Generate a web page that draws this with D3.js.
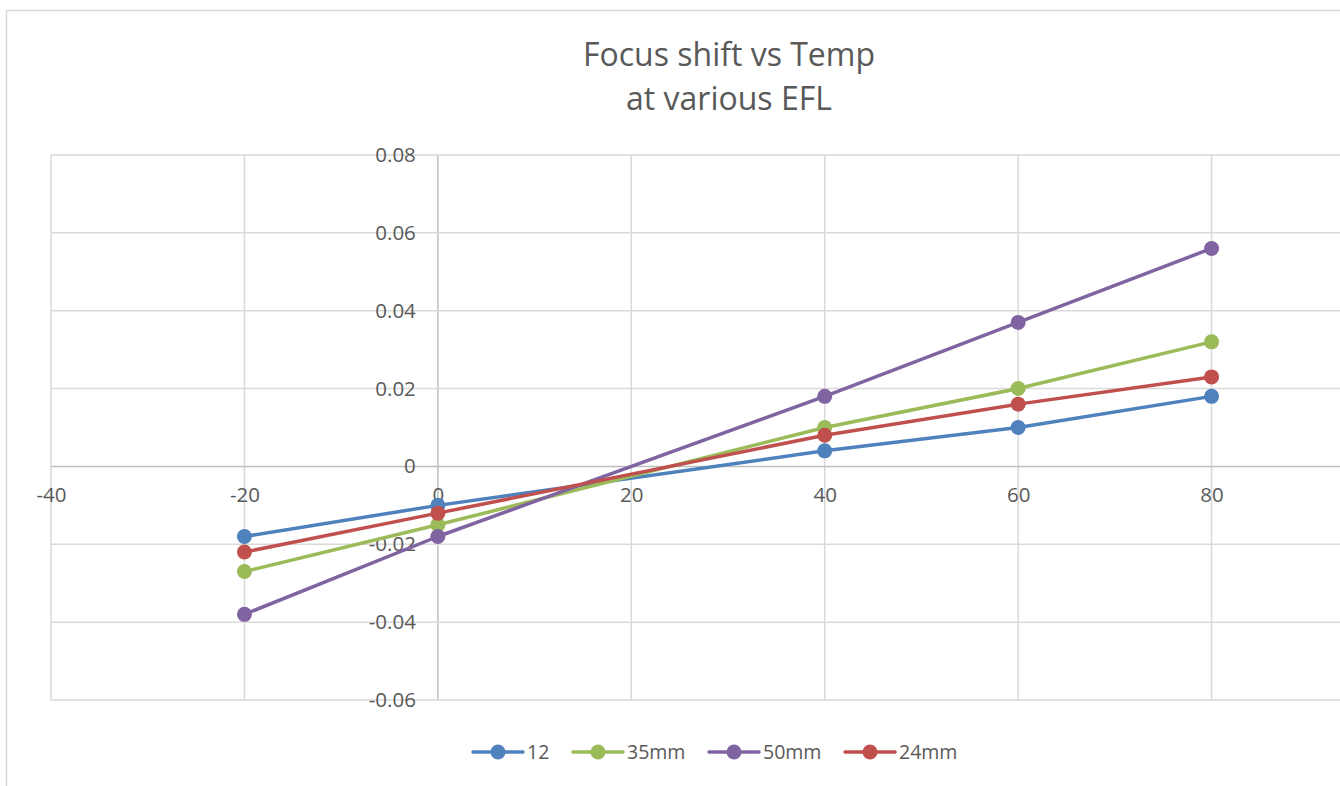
<!DOCTYPE html>
<html>
<head>
<meta charset="utf-8">
<script src="https://cdn.jsdelivr.net/npm/d3@7"></script>
<style>
  html, body { margin: 0; padding: 0; background: #fff; }
  svg { display: block; }
  text { font-family: "Open Sans", "Noto Sans", sans-serif; fill: #595959; }
</style>
</head>
<body>
<svg id="chart" width="1340" height="786"></svg>
<script>
const temps = [-20, 0, 40, 60, 80];
const seriesNames = ["12", "35mm", "50mm", "24mm"];
const s12   = [-0.018, -0.010, 0.004, 0.010, 0.018];
const s35mm = [-0.027, -0.015, 0.010, 0.020, 0.032];
const s50mm = [-0.038, -0.018, 0.018, 0.037, 0.056];
const s24mm = [-0.022, -0.012, 0.008, 0.016, 0.023];
const seriesColors = ["#4F81BD", "#9BBB59", "#8064A2", "#C0504D"];
const xTicks = [-40, -20, 0, 20, 40, 60, 80, 100];
const yTicks = [-0.06, -0.04, -0.02, 0, 0.02, 0.04, 0.06, 0.08];
const titleLines = ["Focus shift vs Temp", "at various EFL"];

const seriesValues = [s12, s35mm, s50mm, s24mm];
const svg = d3.select("#chart");

// outer chart frame
svg.append("rect").attr("x", 6.5).attr("y", 10.5).attr("width", 1400).attr("height", 900)
  .attr("fill", "none").attr("stroke", "#d9d9d9").attr("stroke-width", 1.5);

const x = d3.scaleLinear().domain([-40, 100]).range([51, 1405]);
const y = d3.scaleLinear().domain([-0.06, 0.08]).range([700, 155]);

// gridlines
const grid = svg.append("g");
grid.selectAll("line.v").data(xTicks).join("line")
  .attr("x1", d => x(d)).attr("x2", d => x(d))
  .attr("y1", y(0.08)).attr("y2", y(-0.06))
  .attr("stroke", d => d === 0 ? "#bfbfbf" : "#d9d9d9").attr("stroke-width", 1.5);
grid.selectAll("line.h").data(yTicks).join("line")
  .attr("x1", x(-40)).attr("x2", x(100))
  .attr("y1", d => y(d)).attr("y2", d => y(d))
  .attr("stroke", d => d === 0 ? "#bfbfbf" : "#d9d9d9").attr("stroke-width", 1.5);

// axes (labels only, via d3 axis)
const fmtY = d => d === 0 ? "0" : d3.format(".2f")(d).replace("\u2212", "-");
const fmtX = d => String(d);
const yAxis = svg.append("g").attr("transform", `translate(${x(0)},0)`)
  .call(d3.axisLeft(y).tickValues(yTicks).tickFormat(fmtY).tickSize(0).tickPadding(22));
yAxis.select(".domain").remove();
yAxis.selectAll("text").style("font-size", "20.5px").attr("fill", "#595959")
  .style("font-family", "'Open Sans', sans-serif");

const xAxis = svg.append("g").attr("transform", `translate(0,${y(0)})`)
  .call(d3.axisBottom(x).tickValues(xTicks.filter(d => d <= 80)).tickFormat(fmtX).tickSize(0).tickPadding(21));
xAxis.select(".domain").remove();
xAxis.selectAll("text").style("font-size", "20.5px").attr("fill", "#595959")
  .style("font-family", "'Open Sans', sans-serif");

// series
const line = d3.line().x((d, i) => x(temps[i])).y(d => y(d));
seriesValues.forEach((vals, si) => {
  const g = svg.append("g");
  g.append("path").datum(vals).attr("d", line)
    .attr("fill", "none").attr("stroke", seriesColors[si]).attr("stroke-width", 3.5)
    .attr("stroke-linejoin", "round").attr("stroke-linecap", "round");
  g.selectAll("circle").data(vals).join("circle")
    .attr("cx", (d, i) => x(temps[i])).attr("cy", d => y(d)).attr("r", 7.5)
    .attr("fill", seriesColors[si]);
});

// title
svg.append("g").selectAll("text").data(titleLines).join("text")
  .attr("x", 729).attr("y", (d, i) => 66 + i * 44)
  .attr("text-anchor", "middle").style("font-size", "32px").attr("fill", "#595959")
  .text(d => d);

// legend
const legendX = [473, 573, 709, 845];
const lg = svg.append("g");
seriesNames.forEach((name, i) => {
  const gx = legendX[i];
  lg.append("line").attr("x1", gx).attr("x2", gx + 50).attr("y1", 752).attr("y2", 752)
    .attr("stroke", seriesColors[i]).attr("stroke-width", 3.5).attr("stroke-linecap", "round");
  lg.append("circle").attr("cx", gx + 25).attr("cy", 752).attr("r", 7.5).attr("fill", seriesColors[i]);
  lg.append("text").attr("x", gx + 54).attr("y", 752).attr("dy", "0.35em")
    .style("font-size", "19.5px").attr("fill", "#595959").text(name);
});
</script>
</body>
</html>
